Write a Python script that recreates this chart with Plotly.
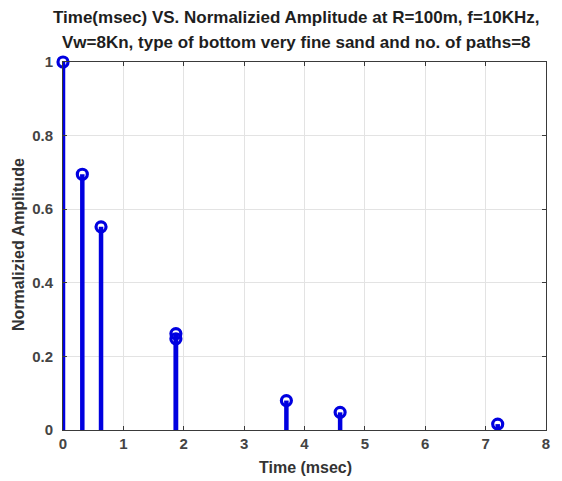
import plotly.graph_objects as go

time_ms = [0.0, 0.32, 0.63, 1.87, 1.87, 3.70, 4.59, 7.20]
amplitude = [1.0, 0.695, 0.552, 0.262, 0.248, 0.080, 0.048, 0.016]
x_ticks = [0, 1, 2, 3, 4, 5, 6, 7, 8]
y_ticks = [0, 0.2, 0.4, 0.6, 0.8, 1]
y_tick_labels = ["0", "0.2", "0.4", "0.6", "0.8", "1"]
title_lines = ["Time(msec) VS. Normalizied Amplitude at R=100m, f=10KHz,",
               "Vw=8Kn, type of bottom very fine sand and no. of paths=8"]
x_label = "Time (msec)"
y_label = "Normalizied Amplitude"

stem_x, stem_y = [], []
for t, a in zip(time_ms, amplitude):
    stem_x += [t, t, None]
    stem_y += [0, a, None]

blue = "#0000e0"
fig = go.Figure()
fig.add_trace(go.Scatter(x=stem_x, y=stem_y, mode="lines",
                         line=dict(color=blue, width=4.5), hoverinfo="skip"))
fig.add_trace(go.Scatter(x=time_ms, y=amplitude, mode="markers",
                         marker=dict(symbol="circle-open", size=10, color=blue,
                                     line=dict(width=3.2, color=blue))))

font_fam = "Liberation Sans, Arial, sans-serif"
tick_col = "#444444"
fig.update_layout(
    width=554, height=473,
    margin=dict(l=55, r=16, t=54, b=51),
    paper_bgcolor="white", plot_bgcolor="white",
    showlegend=False,
    font=dict(family=font_fam, color="#333333"),
    xaxis=dict(
        range=[0, 8], tickvals=x_ticks, ticktext=[f"<b>{v}</b>" for v in x_ticks],
        showgrid=True, gridcolor="#e3e3e3", gridwidth=1,
        showline=True, linecolor="#3a3a3a", linewidth=1, mirror="ticks",
        ticks="inside", ticklen=4, tickcolor="#3a3a3a",
        tickfont=dict(size=15, color=tick_col),
        zeroline=False,
    ),
    yaxis=dict(
        range=[0, 1], tickvals=y_ticks, ticktext=[f"<b>{v}</b>" for v in y_tick_labels],
        showgrid=True, gridcolor="#e3e3e3", gridwidth=1,
        showline=True, linecolor="#3a3a3a", linewidth=1, mirror="ticks",
        ticks="inside", ticklen=4, tickcolor="#3a3a3a",
        tickfont=dict(size=15, color=tick_col),
        ticklabelstandoff=6,
        zeroline=False,
    ),
    annotations=[
        dict(text=f"<b>{title_lines[0]}</b>", xref="paper", yref="paper",
             x=0.484, y=1.12, xanchor="center", yanchor="middle", showarrow=False,
             font=dict(size=17, color="#1e1e1e")),
        dict(text=f"<b>{title_lines[1]}</b>", xref="paper", yref="paper",
             x=0.484, y=1.052, xanchor="center", yanchor="middle", showarrow=False,
             font=dict(size=17, color="#1e1e1e")),
        dict(text=f"<b>{x_label}</b>", xref="paper", yref="paper",
             x=0.503, y=-0.103, xanchor="center", yanchor="middle", showarrow=False,
             font=dict(size=16, color="#333333")),
        dict(text=f"<b>{y_label}</b>", xref="paper", yref="paper",
             x=-0.091, y=0.503, xanchor="center", yanchor="middle", showarrow=False,
             textangle=-90, font=dict(size=16, color="#333333")),
    ],
)
fig.update_traces(cliponaxis=False)
fig.write_html("out.html")
